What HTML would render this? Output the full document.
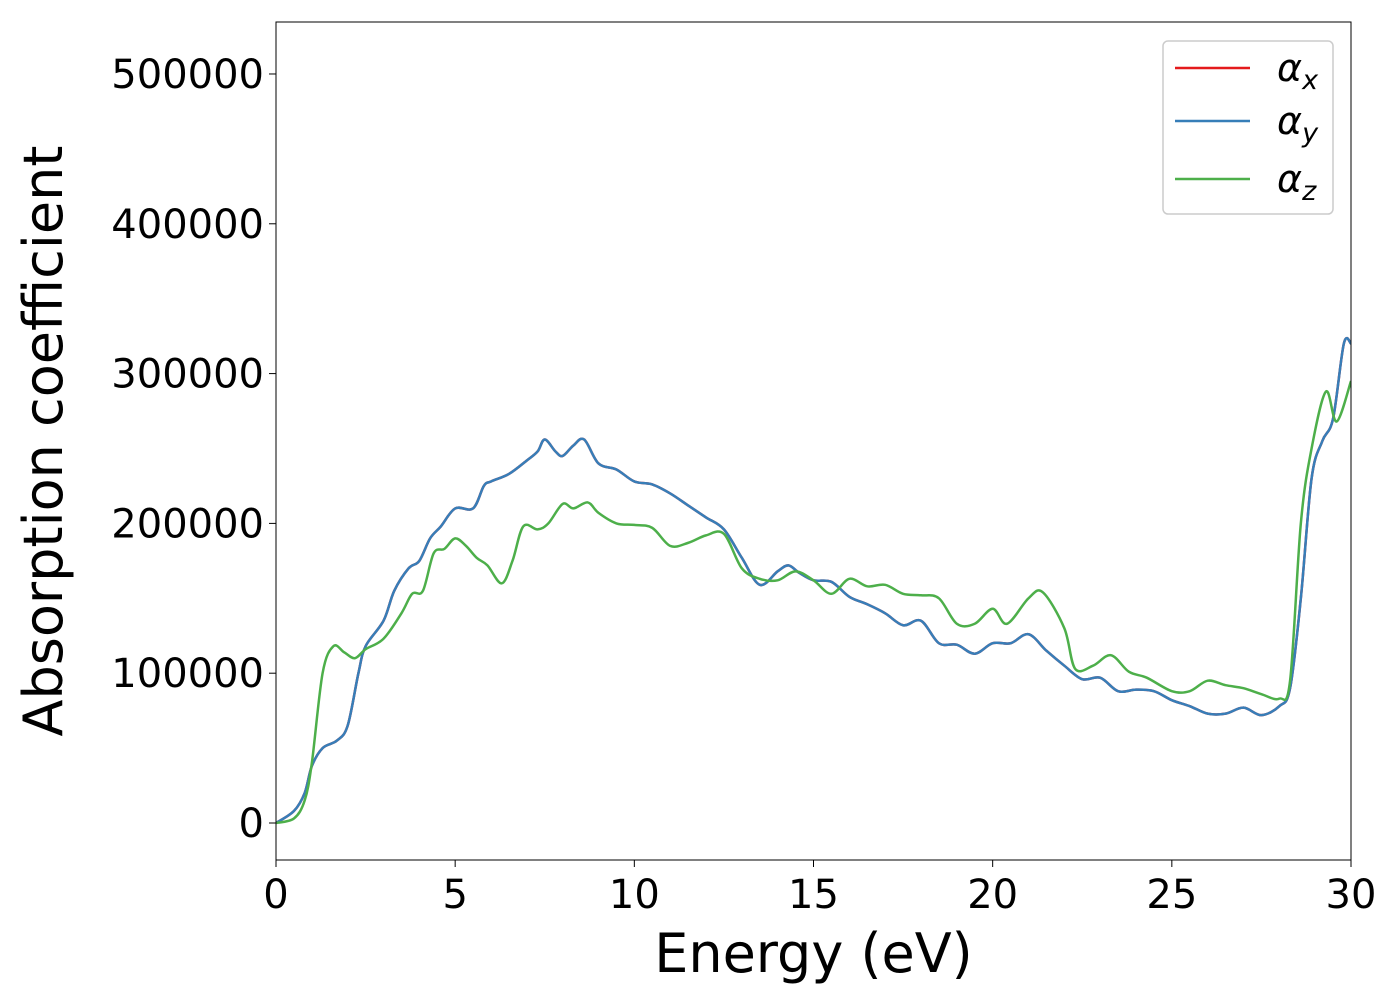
<!DOCTYPE html>
<html><head><meta charset="utf-8"><style>
html,body{margin:0;padding:0;background:#fff;}
svg text{font-family:"DejaVu Sans","Liberation Sans",sans-serif;fill:#000;}
</style></head><body>
<svg id="chart" width="1400" height="1000" xmlns="http://www.w3.org/2000/svg">
<g id="plot"></g>
</svg>
<script>
const xTicks=[0,5,10,15,20,25,30];
const yTicks=[0,100000,200000,300000,400000,500000];
const blueE=[0,0.5,0.8,1,1.3,1.7,2,2.3,2.5,3,3.3,3.7,4,4.3,4.6,5,5.5,5.8,6,6.5,7,7.3,7.5,7.8,8,8.3,8.6,9,9.5,10,10.5,11,11.5,12,12.5,13,13.5,14,14.3,14.6,15,15.5,16,16.5,17,17.5,18,18.5,19,19.5,20,20.5,21,21.5,22,22.5,23,23.5,24,24.5,25,25.5,26,26.5,27,27.5,28,28.3,28.6,28.9,29.2,29.5,29.8,30];
const blueV=[0,8000,20000,38000,50000,55000,65000,100000,118000,135000,155000,170000,175000,190000,198000,210000,210000,225000,228000,233000,242000,248000,256000,248000,245000,252000,256000,240000,236000,228000,226000,220000,212000,204000,196000,177000,159000,168000,172000,167000,162000,161000,151000,146000,140000,132000,135000,120000,119000,113000,120000,120000,126000,115000,105000,96000,97000,88000,89000,88000,82000,78000,73000,73000,77000,72000,78000,90000,150000,230000,255000,270000,320000,320000];
const greenE=[0,0.5,0.8,1,1.3,1.6,1.9,2.2,2.5,3,3.5,3.8,4.1,4.4,4.7,5,5.3,5.6,5.9,6.3,6.6,6.9,7.3,7.6,8,8.3,8.7,9,9.5,10,10.5,11,11.5,12,12.5,13,13.5,14,14.5,15,15.5,16,16.5,17,17.5,18,18.5,19,19.5,20,20.4,21,21.4,22,22.3,22.8,23.3,23.8,24.3,25,25.5,26,26.5,27,27.5,28,28.3,28.6,28.9,29.3,29.6,30];
const greenV=[0,3000,15000,40000,100000,118000,114000,110000,116000,123000,140000,153000,155000,180000,183000,190000,185000,177000,172000,160000,175000,198000,196000,200000,213000,210000,214000,207000,200000,199000,197000,185000,187000,192000,193000,170000,163000,162000,168000,162000,153000,163000,158000,159000,153000,152000,150000,133000,133000,143000,133000,150000,154000,130000,103000,105000,112000,101000,97000,88000,88000,95000,92000,90000,86000,83000,95000,200000,250000,288000,268000,295000];
const L=276,R=1351,T=22,B=860,xmin=0,xmax=30,ymin=-24700,ymax=534700;
const sx=v=>L+(v-xmin)/(xmax-xmin)*(R-L);
const sy=v=>B-(v-ymin)/(ymax-ymin)*(B-T);
const NS="http://www.w3.org/2000/svg";
const g=document.getElementById('plot');
function mk(t,a,p){const e=document.createElementNS(NS,t);for(const k in a)e.setAttribute(k,a[k]);(p||g).appendChild(e);return e;}
function path(E,V){let d='';const P=E.map((e,i)=>[sx(e),sy(V[i])]);d='M'+P[0][0]+','+P[0][1];
for(let i=0;i<P.length-1;i++){const p0=P[Math.max(i-1,0)],p1=P[i],p2=P[i+1],p3=P[Math.min(i+2,P.length-1)];
d+=' C'+(p1[0]+(p2[0]-p0[0])/6)+','+(p1[1]+(p2[1]-p0[1])/6)+' '+(p2[0]-(p3[0]-p1[0])/6)+','+(p2[1]-(p3[1]-p1[1])/6)+' '+p2[0]+','+p2[1];}return d;}
mk('defs',{}).innerHTML='<clipPath id="cp"><rect x="'+L+'" y="'+T+'" width="'+(R-L)+'" height="'+(B-T)+'"/></clipPath>';
const series=[['series-alpha-x',blueE,blueV,'#e41a1c'],['series-alpha-y',blueE,blueV,'#377eb8'],['series-alpha-z',greenE,greenV,'#4daf4a']];
series.forEach(s=>{const p=mk('path',{d:path(s[1],s[2]),fill:'none',stroke:s[3],'stroke-width':2.5,'clip-path':'url(#cp)'});

});
const fr=mk('rect',{x:L,y:T,width:R-L,height:B-T,fill:'none',stroke:'#000','stroke-width':1});


xTicks.forEach(v=>{mk('line',{x1:sx(v),x2:sx(v),y1:B,y2:B+7,stroke:'#000'});
const t=mk('text',{x:sx(v),y:B+48,'text-anchor':'middle','font-size':40});t.textContent=v;

});
yTicks.forEach(v=>{mk('line',{x1:L-7,x2:L,y1:sy(v),y2:sy(v),stroke:'#000'});
const t=mk('text',{x:L-12,y:sy(v)+14,'text-anchor':'end','font-size':40});t.textContent=v;

});
const xt=mk('text',{x:(L+R)/2,y:972,'text-anchor':'middle','font-size':54});xt.textContent='Energy (eV)';


const yt=mk('text',{x:0,y:0,'text-anchor':'middle','font-size':54,transform:'translate(62,441) rotate(-90)'});yt.textContent='Absorption coefficient';


const lg=mk('g',{});


mk('rect',{x:1163,y:41,width:170,height:173,rx:5,fill:'#fff',stroke:'#ccc','stroke-width':1.5},lg);
[['x','#e41a1c',68],['y','#377eb8',121],['z','#4daf4a',179]].forEach(e=>{
mk('line',{x1:1175,x2:1250,y1:e[2],y2:e[2],stroke:e[1],'stroke-width':2.5},lg);
const t=mk('text',{x:1277,y:e[2]+13,'font-size':38,'font-style':'italic'},lg);
t.innerHTML='α<tspan font-size="27" dy="8">'+e[0]+'</tspan>';

});
</script>
</body></html>
